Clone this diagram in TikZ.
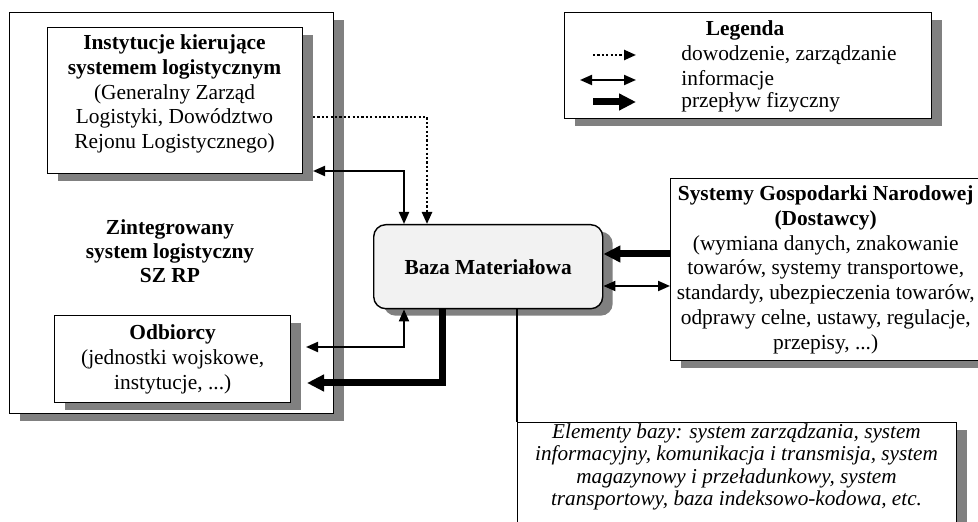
\documentclass[tikz,border=0pt]{standalone}
\usepackage{fontspec}
\setmainfont{Liberation Serif}
\usetikzlibrary{arrows.meta,shadows,calc}
\definecolor{shadowgray}{HTML}{808080}
\definecolor{bazafill}{HTML}{F2F2F2}
\tikzset{
  shad/.style={general shadow={fill=shadowgray,shadow xshift=5pt,shadow yshift=-3.5pt}},
  boxnode/.style={draw,line width=0.7pt,fill=white,shad,inner sep=0pt,anchor=north west,align=center},
  txt/.style={align=center,inner sep=0pt},
  thinhead/.tip={Triangle[length=6pt,width=5pt]},
  thickhead/.tip={Triangle[length=8.5pt,width=8pt]},
  info/.style={line width=1pt,thinhead-thinhead},
  cmdarrow/.style={line width=1.2pt,dash pattern=on 1.1pt off 1.1pt,-thinhead},
  phys/.style={line width=3.5pt,-thickhead},
  plainline/.style={line width=0.7pt}
}
\begin{document}
\begin{tikzpicture}[x=0.5pt,y=-0.5pt,font=\fontsize{10.7}{12.4}\selectfont]
\clip (0,0) rectangle (978,522);
\useasboundingbox (0,0) rectangle (978,522);

% left system
\node[boxnode, minimum width=162pt, minimum height=200.5pt] (outer) at (9,12) {};
\node[boxnode, minimum width=127.5pt, minimum height=73pt] (inst) at (47,27) {};
\node[txt] (insttext) at (174.5,94) {\textbf{Instytucje kierujące}\\\textbf{systemem logistycznym}\\(Generalny Zarząd\\Logistyki, Dowództwo\\Rejonu Logistycznego)};
\node[txt,font=\fontsize{10.7}{12}\selectfont\bfseries] (zint) at (170,251) {Zintegrowany\\system logistyczny\\SZ RP};
\node[boxnode, minimum width=118pt, minimum height=43.5pt] (odb) at (54,315) {\textbf{Odbiorcy}\\(jednostki wojskowe,\\instytucje, ...)};

% base
\node[boxnode, fill=bazafill, rounded corners=6pt, minimum width=114.5pt, minimum height=42pt] (baza) at (373,224) {\textbf{Baza Materiałowa}};

% suppliers
\node[boxnode, minimum width=155pt, minimum height=91pt] (sys) at (670,178) {\textbf{Systemy Gospodarki Narodowej}\\\textbf{(Dostawcy)}\\(wymiana danych, znakowanie\\towarów, systemy transportowe,\\standardy, ubezpieczenia towarów,\\odprawy celne, ustawy, regulacje,\\przepisy, ...)};

% elements
\node[boxnode, minimum width=219.5pt, minimum height=60pt] (elem) at (517,422) {};
\node[txt,font=\fontsize{10.6}{11.25}\selectfont\itshape] (elemtext) at (736.5,467) {Elementy bazy: system zarządzania, system\\informacyjny, komunikacja i transmisja, system\\magazynowy i przeładunkowy, system\\transportowy, baza indeksowo-kodowa, etc.};

% legend
\node[boxnode, minimum width=183.5pt, minimum height=53pt] (leg) at (564,12) {};
\node[txt] (legtitle) at (745,30) {\textbf{Legenda}};
\node[txt, anchor=west] (l1) at (681,55) {dowodzenie, zarządzanie};
\node[txt, anchor=west] (l2) at (681,80) {informacje};
\node[txt, anchor=west] (l3) at (681,102) {przepływ fizyczny};
\coordinate (l1a) at (593,55); \coordinate (l1b) at (636,55);
\coordinate (l2a) at (580,80); \coordinate (l2b) at (636,80);
\coordinate (l3a) at (593,102); \coordinate (l3b) at (636,102);
\draw[cmdarrow] (l1a) -- (l1b);
\draw[info] (l2a) -- (l2b);
\draw[phys] (l3a) -- (l3b);

% connectors
\coordinate (d0) at (313,117);
\coordinate (ti) at (313,171);
\coordinate (bi) at (306,347);
\coordinate (pe) at (307,383);
\coordinate (r1) at (0,254);
\coordinate (r2) at (0,286);
\draw[cmdarrow] (d0) -| ($(baza.north west)+(54,0)$);
\draw[info] (ti) -| ($(baza.north west)+(31,0)$);
\draw[info] (bi) -| ($(baza.south west)+(31,0)$);
\draw[phys] ($(baza.south west)+(69,0)$) |- (pe);
\draw[phys] (sys.west |- r1) -- (baza.east |- r1);
\draw[info] (sys.west |- r2) -- (baza.east |- r2);
\draw[plainline] (elem.north west |- baza.south) -- (elem.north west);
\end{tikzpicture}
\end{document}
